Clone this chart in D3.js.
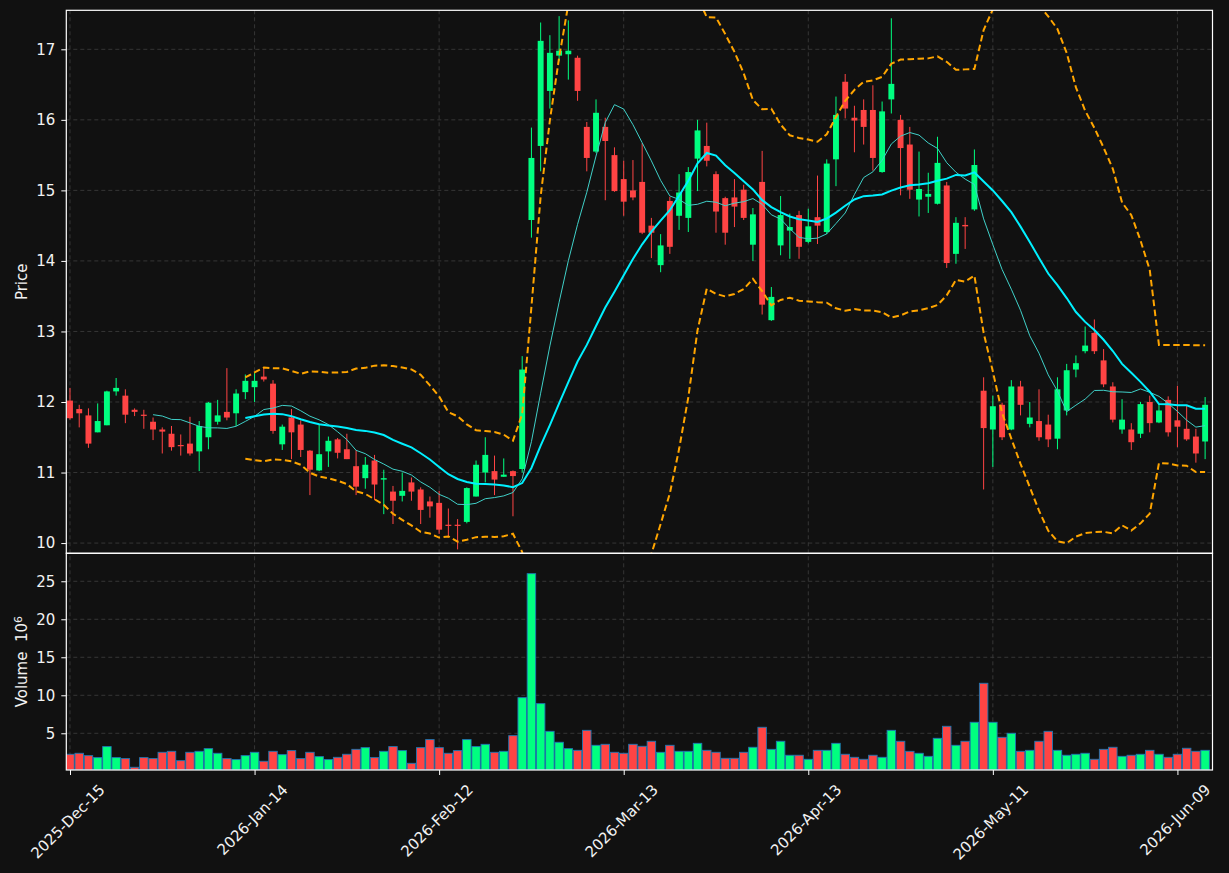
<!DOCTYPE html>
<html><head><meta charset="utf-8">
<script src="https://cdn.jsdelivr.net/npm/d3@7"></script>
<style>
body{margin:0;background:#111111;}
svg{display:block;}
text{font-family:"DejaVu Sans",sans-serif;}
</style>
</head><body>
<svg id="c" width="1229" height="873"></svg>
<script>
// ---- data ----
const opens =[12.02,11.90,11.81,11.57,11.67,12.15,12.09,11.89,11.82,11.72,11.61,11.55,11.39,11.41,11.30,11.50,11.72,11.86,11.84,12.14,
12.21,12.36,12.26,11.40,11.78,11.68,11.31,11.03,11.30,11.47,11.33,11.09,10.92,11.17,10.90,10.73,10.67,10.86,10.76,10.59,
10.57,10.26,10.26,10.30,10.66,11.00,11.02,10.94,11.02,11.05,14.58,15.63,16.41,16.91,16.93,16.88,15.90,15.55,15.90,15.50,
15.16,15.00,15.12,14.50,13.94,14.85,14.64,14.61,15.45,15.63,15.23,14.89,14.90,15.01,14.23,15.12,13.16,14.22,14.43,14.65,
14.27,14.62,14.41,15.44,16.54,16.03,16.14,16.14,15.26,16.29,16.00,15.65,14.87,14.91,14.81,15.07,14.10,14.51,14.73,12.16,
11.61,11.96,11.61,12.22,11.69,11.73,11.68,11.48,11.88,12.46,12.72,12.98,12.59,12.22,11.61,11.61,11.55,12.00,11.71,12.03,
11.74,11.62,11.51,11.44];
const highs =[12.20,11.96,11.91,11.98,12.16,12.34,12.18,11.91,11.89,11.78,11.64,11.66,11.54,11.79,11.73,12.00,12.03,12.48,12.18,12.39,
12.41,12.49,12.31,11.68,11.90,11.74,11.32,11.69,11.51,11.49,11.55,11.32,11.22,11.25,11.04,10.81,11.00,10.93,10.79,10.66,
10.74,10.49,10.34,10.79,11.17,11.50,11.24,11.20,11.03,12.65,15.89,17.38,17.20,17.47,17.41,16.91,15.97,16.29,16.03,15.61,
15.42,15.43,15.67,14.61,14.38,14.91,15.23,15.33,16.00,15.96,15.27,14.91,15.16,15.08,14.75,15.56,13.63,14.92,14.67,14.71,
14.74,15.21,15.44,16.33,16.65,16.20,16.29,16.49,16.26,17.44,16.07,15.90,15.55,15.25,15.76,15.12,14.62,14.62,15.58,12.35,
12.09,11.99,12.31,12.30,12.00,12.18,11.82,12.35,12.54,12.66,13.07,13.17,12.75,12.28,12.04,11.70,12.00,12.09,11.97,12.08,
12.23,11.95,11.62,12.07];
const lows  =[11.75,11.64,11.35,11.57,11.67,12.09,11.70,11.80,11.62,11.46,11.27,11.31,11.24,11.24,11.02,11.33,11.68,11.74,11.66,12.04,
12.00,12.29,11.55,11.32,11.19,11.22,10.68,11.02,11.08,11.20,11.19,10.68,10.77,10.61,10.41,10.27,10.59,10.60,10.27,10.36,
10.13,10.08,9.91,10.28,10.66,10.86,10.68,10.94,10.38,11.00,14.33,15.27,16.16,16.83,16.57,16.27,15.27,15.53,14.86,14.98,
14.64,14.86,14.38,14.04,13.84,14.10,14.44,14.41,14.99,15.34,14.40,14.23,14.48,14.58,14.00,13.24,13.15,14.08,14.03,14.03,
14.25,14.24,14.38,15.06,16.02,15.54,15.65,15.28,15.25,16.09,14.93,14.88,14.63,14.68,14.80,13.90,13.96,14.17,14.71,10.76,
11.08,11.46,11.60,11.81,11.64,11.45,11.36,11.33,11.81,12.35,12.69,12.68,12.21,11.71,11.55,11.32,11.49,11.57,11.70,11.51,
11.36,11.45,11.14,11.19];
const closes=[11.77,11.84,11.41,11.73,12.15,12.20,11.82,11.86,11.81,11.61,11.58,11.36,11.38,11.27,11.66,11.99,11.81,11.78,12.12,12.30,
12.30,12.32,11.59,11.65,11.57,11.32,11.04,11.26,11.45,11.28,11.19,10.80,11.11,10.83,10.92,10.60,10.74,10.73,10.47,10.52,
10.19,10.25,10.25,10.78,11.11,11.25,10.90,10.97,10.95,12.46,15.46,17.12,16.95,16.98,16.98,16.41,15.46,16.10,15.70,14.99,
14.84,14.90,14.40,14.40,14.22,14.20,14.97,15.26,15.85,15.42,14.70,14.40,14.77,14.61,14.66,13.38,13.49,14.65,14.48,14.20,
14.49,14.50,15.38,16.07,16.16,15.99,15.90,15.46,16.12,16.51,15.60,15.01,15.02,14.95,15.39,13.97,14.54,14.49,15.36,11.63,
11.94,11.50,12.22,11.96,11.78,11.50,11.47,12.18,12.45,12.55,12.80,12.72,12.25,11.75,11.75,11.43,11.97,11.70,11.88,11.57,
11.65,11.47,11.27,11.96];
const volumes=[2.24,2.37,2.06,1.80,3.25,1.80,1.67,0.53,1.80,1.67,2.50,2.63,1.40,2.50,2.63,2.98,2.37,1.67,1.54,2.06,
2.50,1.32,2.63,2.19,2.72,1.67,2.50,1.93,1.54,1.84,2.24,2.89,3.11,1.80,2.63,3.25,2.72,1.05,3.11,4.17,
3.11,2.37,2.72,4.17,3.25,3.55,2.50,2.63,4.69,9.69,26.0,8.90,5.26,3.82,2.98,2.76,5.39,3.42,3.55,2.50,
2.37,3.55,3.29,3.95,2.50,3.42,2.63,2.63,3.68,2.76,2.50,1.71,1.71,2.50,3.16,5.79,2.89,3.95,2.11,2.11,
1.58,2.76,2.76,3.68,2.24,1.84,1.58,2.11,1.84,5.39,3.95,2.63,2.37,1.97,4.34,5.92,3.42,3.95,6.45,11.58,
6.45,4.47,5.00,2.63,2.76,3.95,5.26,2.76,2.11,2.24,2.37,1.58,2.89,3.16,1.97,2.11,2.24,2.76,2.24,1.84,
2.24,3.03,2.63,2.76];
const tickIndex=[0,20,40,60,80,100,120];
const tickLabels=["2025-Dec-15","2026-Jan-14","2026-Feb-12","2026-Mar-13","2026-Apr-13","2026-May-11","2026-Jun-09"];
const priceTicks=[10,11,12,13,14,15,16,17];
const volumeTicks=[5,10,15,20,25];

// ---- layout ----
const L=66.3, R=1212.5, T=10.3, MID=553.3, B=770;
const UP="#00ff80", DOWN="#ff4444", TXT="#f2f2f2", GRID="#3a3a3a", FS="15px";
const n=closes.length;
const idx=d3.range(n);

const x=d3.scaleLinear().domain([-0.4,n-0.2]).range([L,R]);
const y=d3.scaleLinear().domain([9.855,17.553]).range([MID,T]);
const yv=d3.scaleLinear().domain([0.17,28.68]).range([B,MID]);
const step=x(1)-x(0);

// derived indicators (computed from closes, as in the source chart)
function sma(arr,k){return arr.map((_,i)=> i<k-1?null:d3.mean(arr.slice(i-k+1,i+1)));}
function sd(arr,k){return arr.map((_,i)=> i<k-1?null:d3.deviation(arr.slice(i-k+1,i+1)));}
const ma10=sma(closes,10), ma20=sma(closes,20), sd20=sd(closes,20);
const bbUp=ma20.map((m,i)=>m==null?null:m+2*sd20[i]);
const bbLo=ma20.map((m,i)=>m==null?null:m-2*sd20[i]);

const svg=d3.select("#c");
svg.append("rect").attr("width",1229).attr("height",873).attr("fill","#111111");
const defs=svg.append("defs");
defs.append("clipPath").attr("id","cm").append("rect").attr("x",L).attr("y",T).attr("width",R-L).attr("height",MID-T);
defs.append("clipPath").attr("id","cv").append("rect").attr("x",L).attr("y",MID).attr("width",R-L).attr("height",B-MID);

// grids
const g=svg.append("g");
g.selectAll(".vg").data(tickIndex).join("line")
 .attr("x1",d=>x(d)).attr("x2",d=>x(d)).attr("y1",T).attr("y2",B)
 .attr("stroke",GRID).attr("stroke-width",0.9).attr("stroke-dasharray","4,3");
g.selectAll(".hg").data(priceTicks).join("line")
 .attr("x1",L).attr("x2",R).attr("y1",d=>y(d)).attr("y2",d=>y(d))
 .attr("stroke",GRID).attr("stroke-width",0.9).attr("stroke-dasharray","4,3");
g.selectAll(".hv").data(volumeTicks).join("line")
 .attr("x1",L).attr("x2",R).attr("y1",d=>yv(d)).attr("y2",d=>yv(d))
 .attr("stroke",GRID).attr("stroke-width",0.9).attr("stroke-dasharray","4,3");

// candles
const cm=svg.append("g").attr("clip-path","url(#cm)");
const col=i=>closes[i]>=opens[i]?UP:DOWN;
cm.selectAll(".wick").data(idx).join("line")
 .attr("x1",i=>x(i)).attr("x2",i=>x(i))
 .attr("y1",i=>y(highs[i])).attr("y2",i=>y(lows[i]))
 .attr("stroke",col).attr("stroke-width",1);
const bw=step*0.64;
cm.selectAll(".body").data(idx).join("rect")
 .attr("x",i=>x(i)-bw/2).attr("width",bw)
 .attr("y",i=>y(Math.max(opens[i],closes[i])))
 .attr("height",i=>Math.max(1.2,Math.abs(y(opens[i])-y(closes[i]))))
 .attr("fill",col);

// indicator lines
function ln(arr){return d3.line().defined(i=>arr[i]!=null).x(i=>x(i)).y(i=>y(arr[i]))(idx);}
cm.append("path").attr("d",ln(bbUp)).attr("fill","none").attr("stroke","#ffa500").attr("stroke-width",2).attr("stroke-dasharray","6.5,3.5");
cm.append("path").attr("d",ln(bbLo)).attr("fill","none").attr("stroke","#ffa500").attr("stroke-width",2).attr("stroke-dasharray","6.5,3.5");
cm.append("path").attr("d",ln(ma10)).attr("fill","none").attr("stroke","#40d0c8").attr("stroke-width",1);
cm.append("path").attr("d",ln(ma20)).attr("fill","none").attr("stroke","#00f0ff").attr("stroke-width",2);

// volume
const cv=svg.append("g").attr("clip-path","url(#cv)");
const vw=step*0.92;
cv.selectAll(".vol").data(idx).join("rect")
 .attr("x",i=>x(i)-vw/2).attr("width",vw)
 .attr("y",i=>yv(volumes[i])).attr("height",i=>B-yv(volumes[i]))
 .attr("fill",col).attr("stroke","#1f77b4").attr("stroke-width",0.9);

// frames
svg.append("rect").attr("x",L).attr("y",T).attr("width",R-L).attr("height",MID-T).attr("fill","none").attr("stroke","#ffffff").attr("stroke-width",1.2);
svg.append("rect").attr("x",L).attr("y",MID).attr("width",R-L).attr("height",B-MID).attr("fill","none").attr("stroke","#ffffff").attr("stroke-width",1.2);

// y axes
const ya=svg.append("g").attr("transform",`translate(${L},0)`)
 .call(d3.axisLeft(y).tickValues(priceTicks).tickSize(5).tickPadding(6).tickFormat(d3.format("d")));
const yva=svg.append("g").attr("transform",`translate(${L},0)`)
 .call(d3.axisLeft(yv).tickValues(volumeTicks).tickSize(5).tickPadding(6).tickFormat(d3.format("d")));
[ya,yva].forEach(a=>{
  a.select(".domain").remove();
  a.selectAll("line").attr("stroke","#ffffff");
  a.selectAll("text").attr("fill",TXT).style("font-size",FS).style("font-family","DejaVu Sans");
});

// x axis
const xa=svg.append("g").attr("transform",`translate(0,${B})`)
 .call(d3.axisBottom(x).tickValues(tickIndex).tickSize(5).tickFormat(""));
xa.select(".domain").remove();
xa.selectAll("line").attr("stroke","#ffffff");
tickIndex.forEach((d,k)=>{
  const t=svg.append("text").text(tickLabels[k]).attr("fill",TXT)
   .style("font-size",FS).attr("text-anchor","middle").attr("dominant-baseline","central");
  const len=t.node().getComputedTextLength();
  const h=(len+15)*Math.SQRT1_2;
  const cx=x(d)-2, cy=782+h/2;
  t.attr("x",cx).attr("y",cy).attr("transform",`rotate(-45,${cx},${cy})`);
});

// axis titles
svg.append("text").attr("transform",`translate(27,${(T+MID)/2}) rotate(-90)`)
 .attr("text-anchor","middle").attr("fill",TXT).style("font-size",FS).text("Price");
const vt=svg.append("text").attr("transform",`translate(27,${(MID+B)/2}) rotate(-90)`)
 .attr("text-anchor","middle").attr("fill",TXT).style("font-size",FS);
vt.append("tspan").text("Volume\u00a0\u00a010");
vt.append("tspan").attr("dy","-0.45em").style("font-size","11px").text("6");
</script>
</body></html>
